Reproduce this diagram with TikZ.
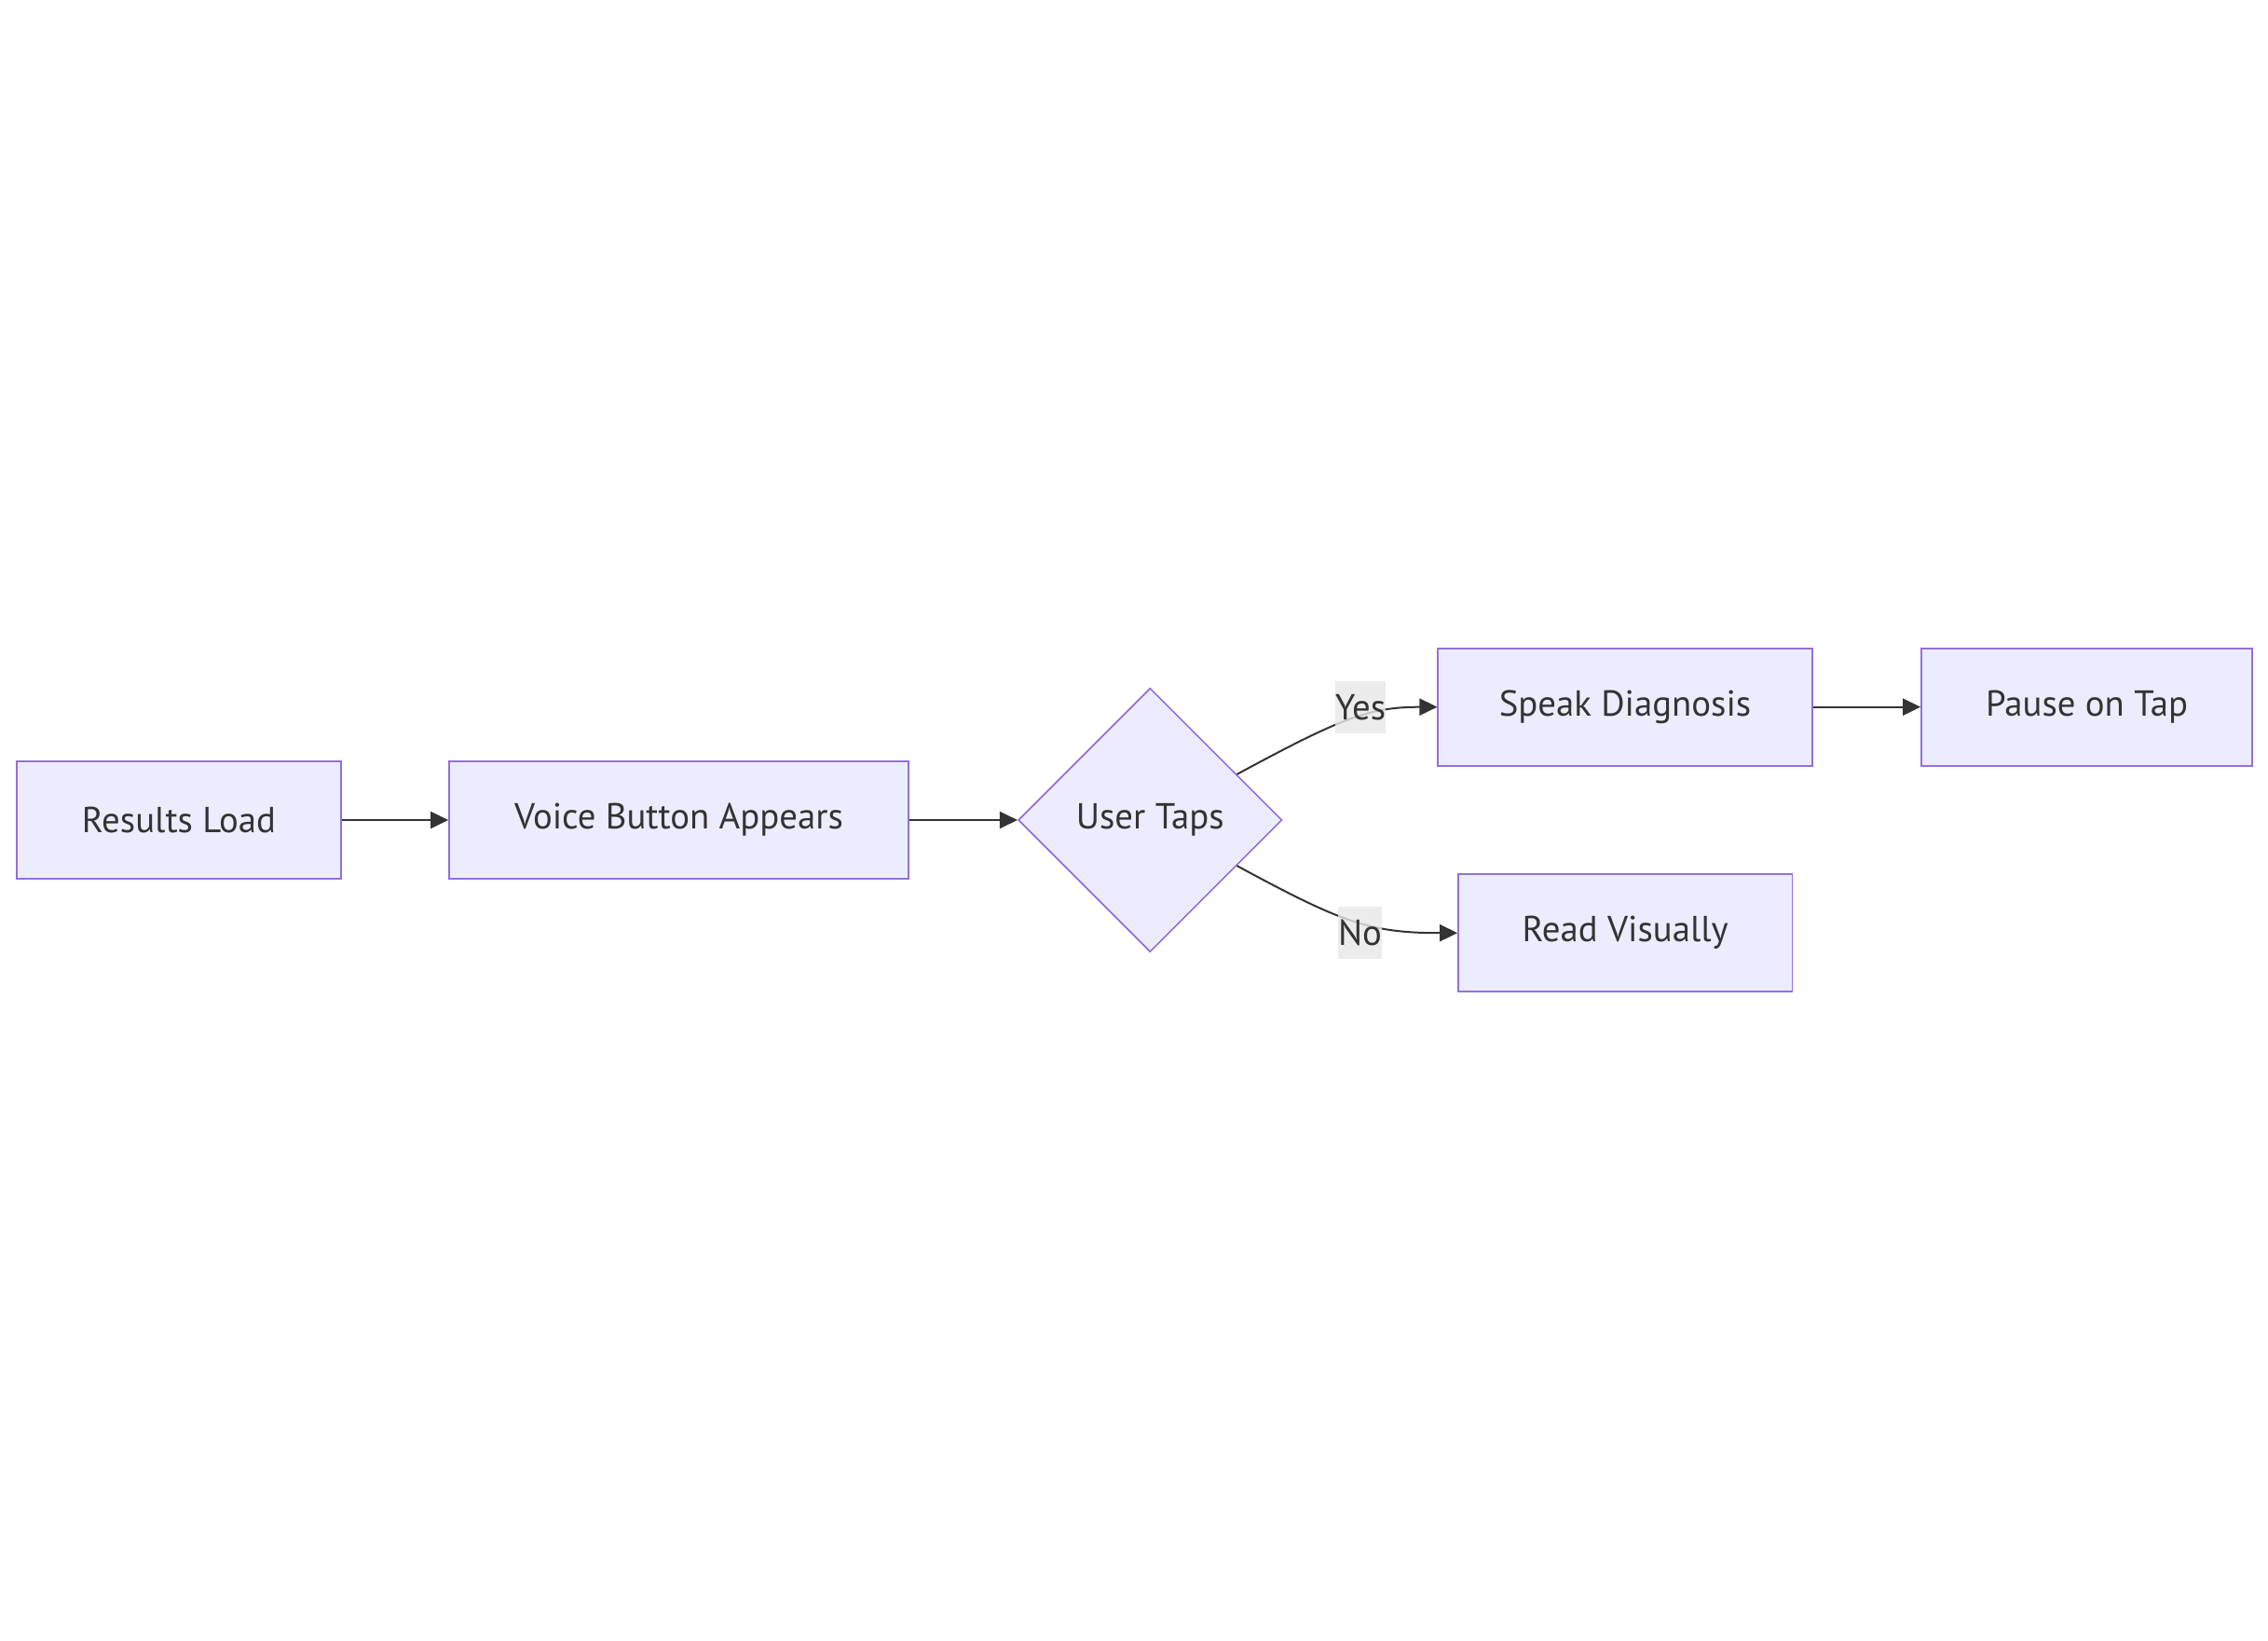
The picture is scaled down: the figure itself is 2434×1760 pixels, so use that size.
\documentclass[tikz,border=0pt]{standalone}
\usepackage{fontspec}
\setmainfont{PT Sans}
\usetikzlibrary{shapes.geometric,arrows.meta,calc}
\definecolor{nodefill}{HTML}{ECECFF}
\definecolor{nodeline}{HTML}{9370DB}
\definecolor{ink}{HTML}{333333}
\definecolor{labelbg}{HTML}{E8E8E8}
\tikzset{
  box/.style={draw=nodeline, fill=nodefill, line width=0.85pt, rectangle,
    inner sep=0pt, text=ink, font=\fontsize{19.4}{23}\selectfont},
  choice/.style={draw=nodeline, fill=nodefill, line width=0.85pt, diamond,
    inner sep=0pt, minimum width=141.5pt, minimum height=141.5pt, text=ink,
    font=\fontsize{19.4}{23}\selectfont},
  flow/.style={draw=ink, line width=1pt, -{Triangle[length=9.5pt,width=9pt]}},
  edgelabel/.style={fill=labelbg, fill opacity=0.8, text opacity=1, text=ink,
    inner sep=0pt, minimum height=27.8pt, font=\fontsize{19.4}{23}\selectfont}
}
\begin{document}
\begin{tikzpicture}[x=0.5pt, y=-0.5pt]
  \useasboundingbox (0,0) rectangle (2434,1760);
  \fill[white] (0,0) rectangle (2434,1760);

  \node[box, minimum width=174pt, minimum height=63pt] (rl) at (192,880) {Results Load};
  \node[box, minimum width=246.5pt, minimum height=63pt] (vb) at (728.5,880) {Voice Button Appears};
  \node[choice] (ut) at (1234.3,880) {User Taps};
  \node[box, minimum width=200.7pt, minimum height=63pt] (sd) at (1744,758.7) {Speak Diagnosis};
  \node[box, minimum width=177.5pt, minimum height=63pt] (pt) at (2239.5,758.7) {Pause on Tap};
  \node[box, minimum width=179.2pt, minimum height=63pt] (rv) at (1744.2,1001.2) {Read Visually};

  \draw[flow] (rl.east) -- (vb.west);
  \draw[flow] (vb.east) -- (ut.west);
  \draw[flow] (sd.east) -- (pt.west);

  \coordinate (yesstart) at ($(ut.north)!0.655!(ut.east)$);
  \coordinate (nostart) at ($(ut.south)!0.655!(ut.east)$);
  \draw[flow] (yesstart) .. controls (1440,770) and (1470,758.7) .. (sd.west);
  \draw[flow] (nostart) .. controls (1440,990) and (1470,1001.2) .. (rv.west);

  \node[edgelabel] (yes) at (1460,759) {Yes};
  \node[edgelabel] (no) at (1459.5,1001) {No};
\end{tikzpicture}
\end{document}
